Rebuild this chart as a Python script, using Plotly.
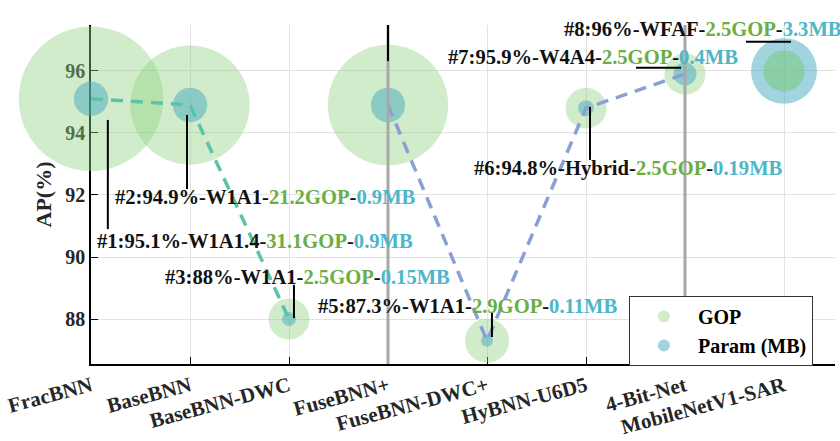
import plotly.graph_objects as go

# ---------------- data ----------------
models = ["FracBNN", "BaseBNN", "BaseBNN-DWC", "FuseBNN+", "FuseBNN-DWC+",
          "HyBNN-U6D5", "4-Bit-Net", "MobileNetV1-SAR"]
ap = [95.1, 94.9, 88.0, 94.9, 87.3, 94.8, 95.9, 96.0]
gop = [31.1, 21.2, 2.5, 21.6, 2.9, 2.5, 2.5, 2.5]
param_mb = [0.9, 0.9, 0.15, 0.9, 0.11, 0.19, 0.4, 3.3]
bits = ["W1A1.4", "W1A1", "W1A1", "W1A1", "W1A1", "Hybrid", "W4A4", "WFAF"]
group_a = [0, 1, 2]        # indices joined by first dashed line
group_b = [3, 4, 5, 6]     # indices joined by second dashed line
separators = [3, 6]        # category indices with grey separator lines
y_ticks = [88, 90, 92, 94, 96]

# ---------------- style / layout ----------------
FONT = "Liberation Serif"
GREEN_FILL = "rgba(144,210,128,0.6)"
TEAL_FILL = "rgba(70,170,192,0.72)"
GREEN_TXT = "#6aae45"
TEAL_TXT = "#4db6c9"
LINE_A = "#5cc4a6"
LINE_B = "#8a9fd4"
GOP_K = 25.9   # px diameter per sqrt(GOP)
MB_K = 36.3    # px diameter per sqrt(MB)
GOP_SIZEREF = 2 / GOP_K ** 2
MB_SIZEREF = 2 / MB_K ** 2

# label layout: (text_left_x, text_center_y, line_x0, line_y0, line_x1, line_y1) in data units
label_layout = [
    (0.04, 90.52, 0.17, 94.42, 0.17, 90.90),
    (0.22, 91.94, 0.97, 94.58, 0.97, 92.19),
    (0.727, 89.35, 2.05, 89.10, 2.05, 88.03),
    (1.667, 97.81, 3.0, 97.48, 3.0, 96.32),
    (2.27, 88.42, 4.05, 88.23, 4.05, 87.42),
    (3.85, 92.84, 5.04, 94.84, 5.04, 93.13),
    (3.586, 96.45, 5.505, 96.10, 5.96, 96.10),
    (4.758, 97.35, 6.616, 96.94, 7.07, 96.94),
]

xs = list(range(len(models)))

fig = go.Figure()

fig.add_trace(go.Scatter(
    x=xs, y=ap, mode="markers", name="GOP",
    marker=dict(size=gop, sizemode="area", sizeref=GOP_SIZEREF,
                color=GREEN_FILL, line=dict(width=0)),
    cliponaxis=False,
))
fig.add_trace(go.Scatter(
    x=xs, y=ap, mode="markers", name="Param (MB)",
    marker=dict(size=param_mb, sizemode="area", sizeref=MB_SIZEREF,
                color=TEAL_FILL, line=dict(width=0)),
    cliponaxis=False,
))
# GOP bubbles that are smaller than their Param bubble are drawn on top again
over = [i for i in xs if GOP_K * gop[i] ** 0.5 < MB_K * param_mb[i] ** 0.5]
fig.add_trace(go.Scatter(
    x=[xs[i] for i in over], y=[ap[i] for i in over], mode="markers",
    showlegend=False, hoverinfo="skip",
    marker=dict(size=[gop[i] for i in over], sizemode="area", sizeref=GOP_SIZEREF,
                color=GREEN_FILL, line=dict(width=0)),
    cliponaxis=False,
))

for grp, col in ((group_a, LINE_A), (group_b, LINE_B)):
    fig.add_trace(go.Scatter(
        x=[xs[i] for i in grp], y=[ap[i] for i in grp], mode="lines",
        showlegend=False, hoverinfo="skip",
        line=dict(color=col, width=3.5, dash="12px,8px"),
    ))

shapes = []
for s in separators:
    shapes.append(dict(type="line", xref="x", yref="paper", x0=s, x1=s, y0=0, y1=1,
                       line=dict(color="#a8a8a8", width=3), layer="above"))

annotations = []
for i, (tx, ty, lx0, ly0, lx1, ly1) in enumerate(label_layout):
    txt = (f"#{i+1}:{ap[i]:g}%-{bits[i]}-"
           f"<span style='color:{GREEN_TXT}'>{gop[i]:g}GOP</span>-"
           f"<span style='color:{TEAL_TXT}'>{param_mb[i]:g}MB</span>")
    annotations.append(dict(x=tx, y=ty, xref="x", yref="y", text=txt, showarrow=False,
                            xanchor="left", yanchor="middle",
                            font=dict(family=FONT, size=20.6, color="#111111", weight="bold")))
    shapes.append(dict(type="line", xref="x", yref="y", x0=lx0, x1=lx1, y0=ly0, y1=ly1,
                       line=dict(color="black", width=2), layer="above"))

fig.update_layout(
    width=840, height=441,
    margin=dict(l=91, r=5, t=25, b=77),
    plot_bgcolor="white", paper_bgcolor="white",
    shapes=shapes, annotations=annotations,
    legend=dict(x=0.723, y=0.2006, xanchor="left", yanchor="top",
                bgcolor="white", bordercolor="#333333", borderwidth=1,
                itemsizing="constant", itemwidth=58, tracegroupgap=0,
                font=dict(family=FONT, size=20, color="black", weight="bold")),
    xaxis=dict(range=[0, 7.515], tickvals=xs, ticktext=models, tickangle=-15,
               showgrid=True, gridcolor="#e2e2e2", gridwidth=1,
               showline=True, linecolor="black", linewidth=1.5,
               ticks="inside", ticklen=7, tickcolor="black", tickwidth=1.2,
               zeroline=False, layer="below traces", automargin=False,
               tickfont=dict(family=FONT, size=21, color="#262626", weight="bold")),
    yaxis=dict(range=[86.55, 97.48], tickvals=y_ticks,
               showgrid=True, gridcolor="#e2e2e2", gridwidth=1,
               showline=True, linecolor="black", linewidth=1.5,
               ticks="inside", ticklen=7, tickcolor="black", tickwidth=1.2,
               zeroline=False, layer="below traces", automargin=False,
               title=dict(text="AP(%)", standoff=8,
                          font=dict(family=FONT, size=22, color="#262626", weight="bold")),
               tickfont=dict(family=FONT, size=20, color="#262626", weight="bold")),
)

fig.write_html("out.html", config={"displayModeBar": False},
               post_script="document.body.style.margin='0';")
